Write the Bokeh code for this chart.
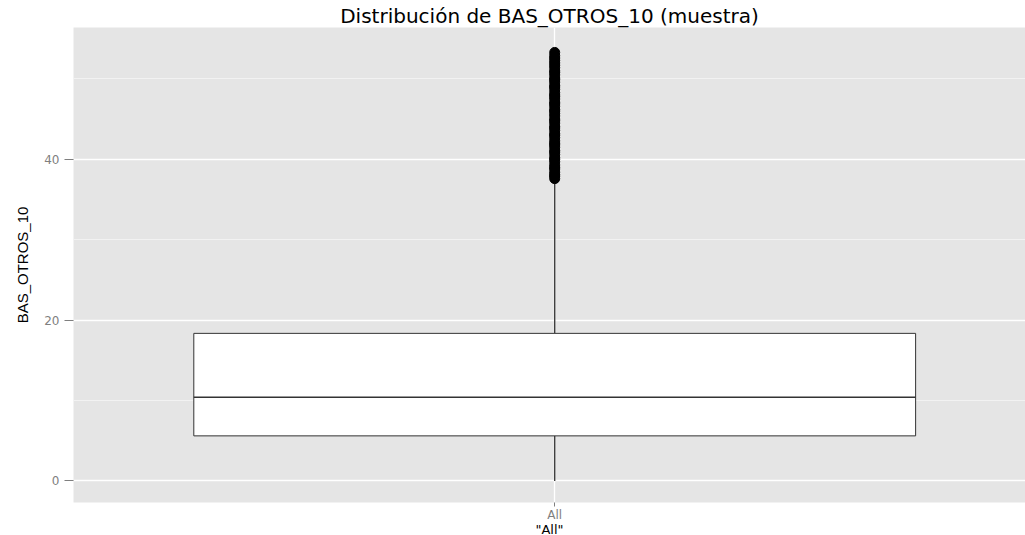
from bokeh.plotting import figure
from bokeh.models import Range1d, FixedTicker, ColumnDataSource
from bokeh.embed import file_html
from bokeh.resources import INLINE

# Box-plot summary of BAS_OTROS_10 for the single group "All"
categories = ["All"]
lower_whisker = [0.0]
q1 = [5.6]
median = [10.4]
q3 = [18.35]
upper_whisker = [37.4]

# points beyond the upper whisker
outliers = [37.6, 37.9, 38.1, 38.4, 38.8, 39.0, 39.3, 39.7, 40.0, 40.2,
            40.6, 40.9, 41.1, 41.5, 41.8, 42.0, 42.3, 42.7, 43.0, 43.2,
            43.6, 43.9, 44.1, 44.5, 44.8, 45.0, 45.4, 45.7, 46.0, 46.2,
            46.6, 46.9, 47.1, 47.5, 47.8, 48.0, 48.3, 48.7, 49.0, 49.2,
            49.6, 49.9, 50.1, 50.5, 50.8, 51.0, 51.4, 51.7, 52.0, 52.3,
            52.6, 52.9, 53.3]

y_ticks = [0, 20, 40]
y_minor = [10, 30, 50]

# discrete group i sits at x = i + 1, boxes are 0.9 wide
xpos = [i + 1 for i in range(len(categories))]
box_w = 0.9

src = ColumnDataSource(dict(
    x=xpos,
    left=[x - box_w / 2 for x in xpos],
    right=[x + box_w / 2 for x in xpos],
    lo=lower_whisker, q1=q1, med=median, q3=q3, hi=upper_whisker,
))
out_src = ColumnDataSource(dict(x=[xpos[0]] * len(outliers), y=outliers))

BG = "#E5E5E5"
p = figure(frame_width=952, frame_height=475,
           x_range=Range1d(0.4, 1.587), y_range=Range1d(-2.69, 56.4),
           output_backend="svg", toolbar_location=None,
           min_border_left=73, min_border_right=0,
           min_border_top=27, min_border_bottom=33,
           background_fill_color=BG, border_fill_color="white",
           outline_line_color=None)

p.title.text = "Distribución de BAS_OTROS_10 (muestra)"
p.title.align = "center"
p.title.text_font = "DejaVu Sans"
p.title.text_font_size = "20px"
p.title.text_font_style = "normal"
p.title.text_color = "black"
p.title.offset = 5
p.title.standoff = 0

# grid
p.xgrid.ticker = FixedTicker(ticks=xpos)
p.ygrid.ticker = FixedTicker(ticks=y_ticks, minor_ticks=y_minor)
for g in (p.xgrid, p.ygrid):
    g.grid_line_color = "white"
    g.grid_line_width = 1.3
p.ygrid.minor_grid_line_color = "#F2F2F2"
p.ygrid.minor_grid_line_width = 1

# axes
xa, ya = p.xaxis[0], p.yaxis[0]
xa.ticker = FixedTicker(ticks=xpos)
xa.major_label_overrides = {x: c for x, c in zip(xpos, categories)}
ya.ticker = FixedTicker(ticks=y_ticks, minor_ticks=[])
for ax in (xa, ya):
    ax.axis_line_color = None
    ax.minor_tick_line_color = None
    ax.major_tick_line_color = "#7F7F7F"
    ax.major_tick_in = 0
    ax.major_label_text_color = "#7F7F7F"
    ax.major_label_text_font = "DejaVu Sans"
    ax.major_label_text_font_size = "12px"
    ax.axis_label_text_color = "black"
    ax.axis_label_text_font_style = "normal"
xa.major_tick_out = 4
xa.major_label_standoff = 1
xa.axis_label = '"All"'
xa.axis_label_text_font = "DejaVu Sans"
xa.axis_label_text_font_size = "13px"
xa.axis_label_standoff = -3
ya.major_tick_out = 9
ya.major_label_standoff = 5
ya.axis_label = "BAS_OTROS_10"
ya.axis_label_text_font = "Liberation Sans"
ya.axis_label_text_font_size = "15px"
ya.axis_label_standoff = 10

# whiskers, box, median
p.segment(x0="x", y0="lo", x1="x", y1="q1", source=src,
          line_color="#333333", line_width=1.3)
p.segment(x0="x", y0="q3", x1="x", y1="hi", source=src,
          line_color="#333333", line_width=1.3)
p.quad(left="left", right="right", bottom="q1", top="q3", source=src,
       fill_color="white", line_color="#333333", line_width=1)
p.segment(x0="left", y0="med", x1="right", y1="med", source=src,
          line_color="#333333", line_width=1.5)

# outliers
p.scatter(x="x", y="y", source=out_src, size=10,
          fill_color="black", line_color="black")

open("out.html", "w").write(file_html(p, INLINE))
